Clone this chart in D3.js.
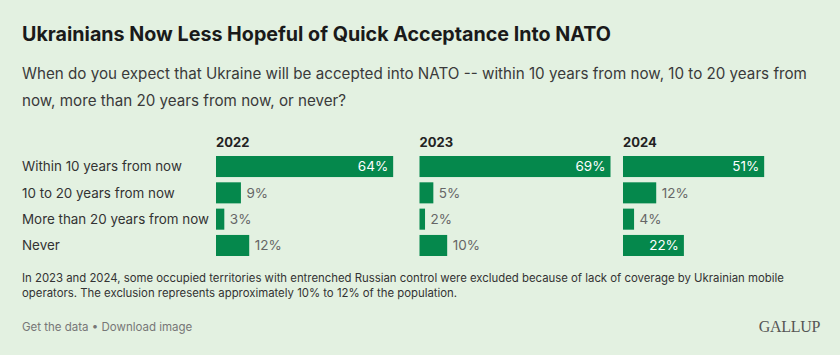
<!DOCTYPE html>
<html><head><meta charset="utf-8">
<script src="https://cdn.jsdelivr.net/npm/d3@7"></script>
<style>
html,body{margin:0;padding:0;background:#e3f1e1;}
svg{display:block;font-family:Inter,"Noto Sans",sans-serif;}
</style></head>
<body><svg id="c" width="840" height="355"></svg>
<script>
const categories = ["Within 10 years from now","10 to 20 years from now","More than 20 years from now","Never"];
const years = ["2022","2023","2024"];
const values2022 = [64, 9, 3, 12];
const values2023 = [69, 5, 2, 10];
const values2024 = [51, 12, 4, 22];
const seriesValues = [values2022, values2023, values2024];

const title = "Ukrainians Now Less Hopeful of Quick Acceptance Into NATO";
const subtitleLines = ["When do you expect that Ukraine will be accepted into NATO -- within 10 years from now, 10 to 20 years from",
  "now, more than 20 years from now, or never?"];
const noteLines = ["In 2023 and 2024, some occupied territories with entrenched Russian control were excluded because of lack of coverage by Ukrainian mobile",
  "operators. The exclusion represents approximately 10% to 12% of the population."];

const svg = d3.select("#c");
svg.append("rect").attr("width",840).attr("height",355).attr("fill","#e3f1e1");

// fit a group of text lines so its first line spans the given width
function fitLines(sel, targetWidth){
  const first = sel.nodes()[0];
  const fs = parseFloat(first.getAttribute("font-size"));
  const w = first.getComputedTextLength();
  sel.attr("font-size", fs * targetWidth / w);
}

svg.append("text").attr("x",22).attr("y",41).attr("font-size",19.7).attr("font-weight",700)
  .attr("fill","#1a1a1a").text(title);
const sub = svg.selectAll("text.sub").data(subtitleLines).join("text").attr("class","sub")
  .attr("x",22).attr("y",(d,i)=>79+i*27).attr("font-size",16).attr("fill","#3a3a3a").text(d=>d);
fitLines(sub, 786);

const panelX = d3.scaleBand().domain(years).range([216, 814]).paddingInner(0.0614).paddingOuter(0);
const maxV = d3.max(seriesValues.flat());
const x = d3.scaleLinear().domain([0, maxV]).range([0, panelX.bandwidth()]);
const y = d3.scaleBand().domain(categories).range([156, 256]).paddingInner(0.2).paddingOuter(0);

svg.selectAll("text.cat").data(categories).join("text").attr("class","cat")
  .attr("x",22).attr("y",d=>y(d)+y.bandwidth()/2).attr("dy","0.35em")
  .attr("font-size",13.4).attr("fill","#333").text(d=>d);

years.forEach((yr, j) => {
  const g = svg.append("g").attr("transform",`translate(${panelX(yr)},0)`);
  g.append("text").attr("x",0).attr("y",147).attr("font-size",13).attr("font-weight",700)
    .attr("fill","#222").text(yr);
  const data = categories.map((c,i)=>({c, v: seriesValues[j][i]}));
  g.selectAll("rect").data(data).join("rect")
    .attr("x",0).attr("y",d=>y(d.c)).attr("width",d=>x(d.v)).attr("height",y.bandwidth())
    .attr("fill","#05884c");
  g.selectAll("text.val").data(data).join("text").attr("class","val")
    .attr("y",d=>y(d.c)+y.bandwidth()/2).attr("dy","0.35em").attr("font-size",13.5)
    .each(function(d){
      const inside = d.v >= 20;
      d3.select(this).attr("x", inside ? x(d.v)-5 : x(d.v)+5.5)
        .attr("text-anchor", inside ? "end" : "start")
        .attr("fill", inside ? "#fff" : "#666");
    })
    .text(d=>d.v+"%");
});

const notes = svg.selectAll("text.note").data(noteLines).join("text").attr("class","note")
  .attr("x",22).attr("y",(d,i)=>281.5+i*15).attr("font-size",12).attr("fill","#333").text(d=>d);
fitLines(notes, 763);
svg.append("text").attr("x",22).attr("y",331).attr("font-size",11.5).attr("fill","#777")
  .text("Get the data \u2022 Download image");
svg.append("text").attr("x",820).attr("y",332).attr("text-anchor","end")
  .attr("font-family","'Liberation Serif','DejaVu Serif',serif").attr("font-size",16)
  .attr("letter-spacing",-0.3).attr("fill","#555").text("GALLUP");
</script></body></html>
